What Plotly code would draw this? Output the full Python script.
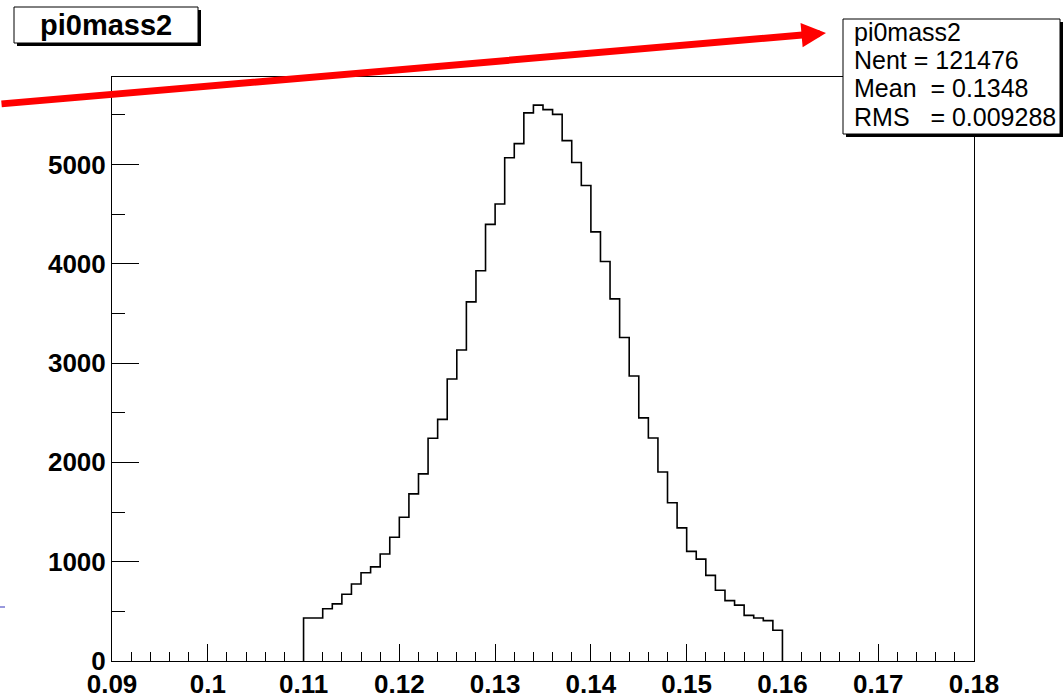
import plotly.graph_objects as go

# ---- data -------------------------------------------------------------
bin_low = 0.110
bin_width = 0.001
counts = [433, 433, 526, 575, 672, 776, 888, 948, 1078, 1246,
          1448, 1683, 1884, 2243, 2433, 2840, 3131, 3616, 3929, 4396,
          4601, 5067, 5209, 5519, 5597, 5552, 5504, 5239, 5019, 4787,
          4321, 4022, 3646, 3257, 2869, 2448, 2246, 1903, 1593, 1340,
          1104, 1026, 862, 713, 608, 563, 459, 433, 407, 310]
x_tick_vals = [0.09, 0.10, 0.11, 0.12, 0.13, 0.14, 0.15, 0.16, 0.17, 0.18]
x_tick_text = ["0.09", "0.1", "0.11", "0.12", "0.13", "0.14", "0.15", "0.16", "0.17", "0.18"]
y_tick_vals = [0, 1000, 2000, 3000, 4000, 5000]
y_tick_text = ["0", "1000", "2000", "3000", "4000", "5000"]
hist_title = "pi0mass2"
stats_lines = ["pi0mass2", "Nent = 121476", "Mean  = 0.1348", "RMS   = 0.009288"]

# ---- geometry ----------------------------------------------------------
W, H = 1063, 696
L, R, T, B = 112, 974, 77, 661


def px(x):
    return (x - L) / (R - L)


def py(y):
    return (B - y) / (B - T)


edges = [bin_low + i * bin_width for i in range(len(counts) + 1)]
xs = [edges[0]] + edges[:-1] + [edges[-1]]
ys = [0] + counts + [0]

FONT = "Liberation Sans, Arial, Helvetica, sans-serif"

fig = go.Figure()
fig.add_trace(go.Scatter(x=xs, y=ys, mode="lines", line=dict(shape="hv", color="black", width=1.6),
                         hoverinfo="skip", showlegend=False))

fig.update_layout(
    width=W, height=H,
    margin=dict(l=L, r=W - R, t=T, b=H - B, pad=0, autoexpand=False),
    paper_bgcolor="white", plot_bgcolor="white",
    showlegend=False,
    xaxis=dict(range=[0.09, 0.18], tickvals=x_tick_vals, ticktext=x_tick_text,
               ticks="inside", ticklen=17, tickwidth=1, tickcolor="black",
               minor=dict(ticks="inside", ticklen=9, dtick=0.002, tickcolor="black", tickwidth=1, showgrid=False),
               showline=True, linecolor="black", linewidth=1, mirror=True,
               showgrid=False, zeroline=False, automargin=False, ticklabelstandoff=0,
               tickfont=dict(family=FONT, size=26, color="black", weight="bold")),
    yaxis=dict(range=[0, 5880], tickvals=y_tick_vals, ticktext=y_tick_text,
               ticks="inside", ticklen=27, tickwidth=1, tickcolor="black",
               minor=dict(ticks="inside", ticklen=13, dtick=500, tickcolor="black", tickwidth=1, showgrid=False),
               showline=True, linecolor="black", linewidth=1, mirror=True,
               showgrid=False, zeroline=False, automargin=False,
               tickfont=dict(family=FONT, size=26, color="black", weight="bold")),
)

shapes = []
# title box with shadow
shapes.append(dict(type="rect", xref="paper", yref="paper", layer="above",
                   x0=px(17), x1=px(201), y0=py(10), y1=py(46),
                   fillcolor="black", line=dict(width=0)))
shapes.append(dict(type="rect", xref="paper", yref="paper", layer="above",
                   x0=px(14), x1=px(198), y0=py(7), y1=py(43),
                   fillcolor="white", line=dict(color="black", width=1)))
# stats box with shadow
shapes.append(dict(type="rect", xref="paper", yref="paper", layer="above",
                   x0=px(846), x1=px(1063), y0=py(22), y1=py(137),
                   fillcolor="black", line=dict(width=0)))
shapes.append(dict(type="rect", xref="paper", yref="paper", layer="above",
                   x0=px(843), x1=px(1060), y0=py(19), y1=py(134),
                   fillcolor="white", line=dict(color="black", width=1)))
# small blue dash at left edge
shapes.append(dict(type="line", xref="paper", yref="paper", layer="above",
                   x0=px(0), x1=px(5), y0=py(607), y1=py(607),
                   line=dict(color="#3333bb", width=1)))
fig.update_layout(shapes=shapes)

ann = []
ann.append(dict(xref="paper", yref="paper", x=px(106), y=py(25), xanchor="center", yanchor="middle",
                text=hist_title, showarrow=False,
                font=dict(family=FONT, size=29, color="black", weight="bold")))
line_y = [32, 60, 88, 117]
for t, yy in zip(stats_lines, line_y):
    ann.append(dict(xref="paper", yref="paper", x=px(852), y=py(yy), xanchor="left", yanchor="middle",
                    text=t.replace(" ", "&nbsp;"), showarrow=False,
                    font=dict(family=FONT, size=25, color="black")))
# red arrow
ann.append(dict(xref="paper", yref="paper", x=px(826), y=py(33), text="", showarrow=True,
                ax=-846, ay=71, axref="pixel", ayref="pixel",
                arrowcolor="#ff0000", arrowwidth=7, arrowhead=2, arrowsize=0.7))
fig.update_layout(annotations=ann)

fig.write_html("out.html", config={"displayModeBar": False},
               post_script="document.body.style.margin='0';document.body.style.overflow='hidden';")
